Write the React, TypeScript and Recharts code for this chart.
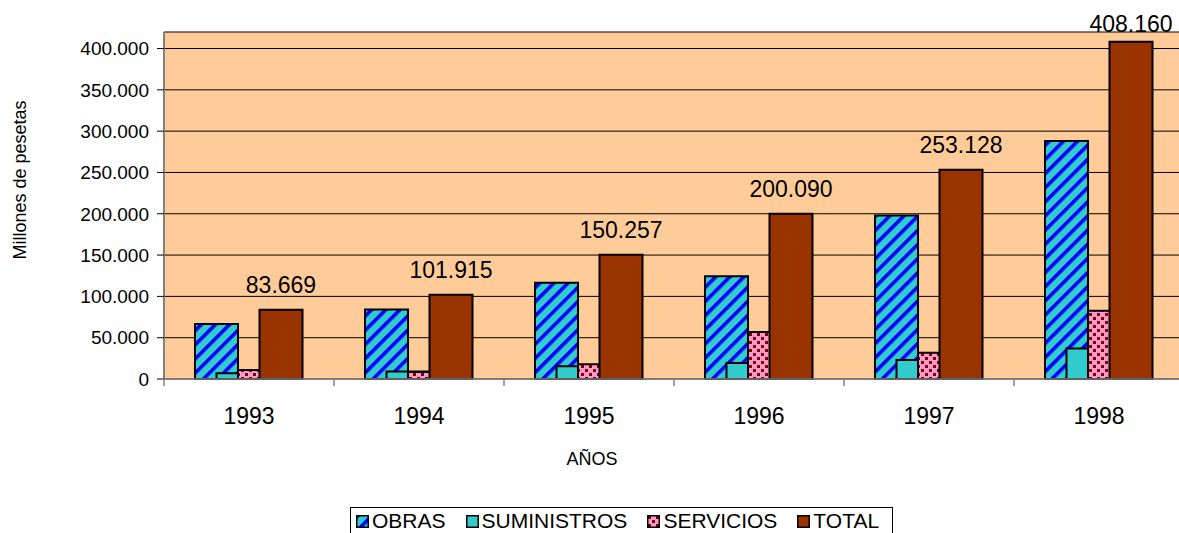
import { BarChart, Bar, XAxis, YAxis, CartesianGrid, LabelList } from 'recharts'

const years = ['1993', '1994', '1995', '1996', '1997', '1998']
const obras = [66500, 84000, 116500, 124500, 198000, 288000]
const suministros = [6900, 9000, 15500, 19300, 23000, 37000]
const servicios = [10900, 8500, 18000, 56800, 31800, 82500]
const totales = [83669, 101915, 150257, 200090, 253128, 408160]
const yTicks = [0, 50000, 100000, 150000, 200000, 250000, 300000, 350000, 400000]

const data = years.map((y, i) => ({
  year: y,
  OBRAS: obras[i],
  SUMINISTROS: suministros[i],
  SERVICIOS: servicios[i],
  TOTAL: totales[i],
}))

const W = 1200
const H = 533
const LEFT = 164
const RIGHT = 16
const HALF_BAND = (W - LEFT - RIGHT) / years.length / 2
const FONT = 'Arial, "Liberation Sans", sans-serif'

const fmt = (v: number) => String(v).replace(/\B(?=(\d{3})+(?!\d))/g, '.')

function XTick(props: any) {
  const { x, y, payload, index } = props
  return (
    <g>
      <line x1={x - HALF_BAND} x2={x - HALF_BAND} y1={y} y2={y + 7} stroke="#808080" strokeWidth={1.5} />
      {index === years.length - 1 && (
        <line x1={x + HALF_BAND} x2={x + HALF_BAND} y1={y} y2={y + 7} stroke="#808080" strokeWidth={1.5} />
      )}
      <text x={x} y={y + 45} textAnchor="middle" fontSize={23} fill="#000" fontFamily={FONT}>
        {payload.value}
      </text>
    </g>
  )
}

function TotalLabel(props: any) {
  const { x, y, width, value } = props
  return (
    <text x={x + width / 2} y={Math.max(y - 17, 32)} textAnchor="middle" fontSize={23} fill="#000" fontFamily={FONT}>
      {fmt(value)}
    </text>
  )
}

const legendItems = [
  { name: 'OBRAS', fill: 'url(#obrasPat)' },
  { name: 'SUMINISTROS', fill: '#33CCCC' },
  { name: 'SERVICIOS', fill: 'url(#serviciosPat)' },
  { name: 'TOTAL', fill: '#993300' },
]

export default function App() {
  return (
    <div
      style={{
        position: 'absolute',
        left: 0,
        top: 0,
        width: 1179,
        height: H,
        overflow: 'hidden',
        background: '#fff',
        fontFamily: FONT,
      }}
    >
      <BarChart
        width={W}
        height={H}
        data={data}
        margin={{ top: 32, right: RIGHT, bottom: 94, left: 0 }}
        barSize={43}
        barGap={-21.5}
      >
        <defs>
          <pattern id="obrasPat" width={10} height={10} patternUnits="userSpaceOnUse" patternTransform="rotate(45)">
            <rect width={10} height={10} fill="#33CCCC" />
            <rect width={3.6} height={10} fill="#0000FF" />
          </pattern>
          <pattern id="serviciosPat" width={8} height={8} patternUnits="userSpaceOnUse">
            <rect width={8} height={8} fill="#FF99CC" />
            <rect x={1} y={1} width={3} height={3} fill="#800000" />
            <rect x={5} y={5} width={3} height={3} fill="#800000" />
          </pattern>
        </defs>
        <CartesianGrid vertical={false} stroke="#000" fill="#FFCC99" />
        <XAxis
          dataKey="year"
          height={60}
          stroke="#808080"
          strokeWidth={1.5}
          tickLine={false}
          tickSize={0}
          tickMargin={0}
          tick={XTick}
          interval={0}
          label={() => (
            <text x={592} y={465} textAnchor="middle" fontSize={18} fill="#000" fontFamily={FONT}>
              AÑOS
            </text>
          )}
        />
        <YAxis
          width={LEFT}
          domain={[0, 420000]}
          ticks={yTicks}
          tickFormatter={fmt}
          stroke="#808080"
          strokeWidth={2}
          tickLine={{ stroke: '#000', strokeWidth: 1 }}
          tickSize={7}
          tickMargin={8}
          tick={{ fill: '#000', fontSize: 19, fontFamily: FONT }}
          label={() => (
            <text
              x={20}
              y={180}
              transform="rotate(-90 20 180)"
              textAnchor="middle"
              dominantBaseline="central"
              fontSize={18}
              fill="#000"
              fontFamily={FONT}
            >
              Millones de pesetas
            </text>
          )}
        />
        <Bar dataKey="OBRAS" fill="url(#obrasPat)" stroke="#000" strokeWidth={2} isAnimationActive={false} />
        <Bar dataKey="SUMINISTROS" fill="#33CCCC" stroke="#000" strokeWidth={2} isAnimationActive={false} />
        <Bar dataKey="SERVICIOS" fill="url(#serviciosPat)" stroke="#000" strokeWidth={2} isAnimationActive={false} />
        <Bar dataKey="TOTAL" fill="#993300" stroke="#000" strokeWidth={2} isAnimationActive={false}>
          <LabelList dataKey="TOTAL" content={TotalLabel} />
        </Bar>
      </BarChart>
      <div
        style={{
          position: 'absolute',
          left: 350,
          top: 507,
          width: 543,
          height: 40,
          boxSizing: 'border-box',
          border: '1px solid #000',
          background: '#fff',
          display: 'flex',
          alignItems: 'flex-start',
          paddingLeft: 5,
          paddingTop: 2,
          fontSize: 21,
          lineHeight: '22px',
          color: '#000',
        }}
      >
        {legendItems.map((it) => (
          <div key={it.name} style={{ display: 'flex', alignItems: 'center', marginRight: 20 }}>
            <svg width={13} height={13} style={{ marginRight: 3 }}>
              <rect x={0.75} y={0.75} width={11.5} height={11.5} fill={it.fill} stroke="#000" strokeWidth={1.5} />
            </svg>
            <span>{it.name}</span>
          </div>
        ))}
      </div>
    </div>
  )
}
